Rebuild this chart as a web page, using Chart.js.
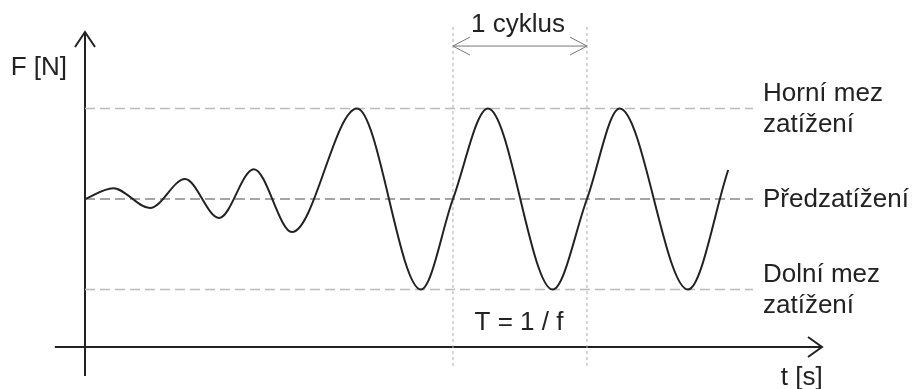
<!DOCTYPE html>
<html>
<head>
<meta charset="utf-8">
<script src="https://cdn.jsdelivr.net/npm/chart.js@4.4.0/dist/chart.umd.min.js"></script>
<style>
  html, body { margin: 0; padding: 0; background: #fff; }
  #wrap { width: 914px; height: 389px; }
</style>
</head>
<body>
<div id="wrap"><canvas id="chart" width="914" height="389"></canvas></div>
<script>
// time in periods (T = 1), force relative to preload (1 = upper limit, -1 = lower limit)
const waveTime  = [0, 0.21, 0.485, 0.746, 1.0, 1.26, 1.545, 2.03, 2.507, 2.746, 3.007, 3.49, 3.746, 3.99, 4.5, 4.8];
const waveForce = [0, 0.12, -0.10, 0.22, -0.21, 0.33, -0.365, 1, -1, 0, 1, -1, 0, 1, -1, 0.32];

const limitLabels = [['Horní mez', 'zatížení'], ['Předzatížení'], ['Dolní mez', 'zatížení']];
const limitValues = [1, 0, -1];
const limitEnd = 4.985;

const cycleBounds = [2.746, 3.746];
const cycleLabel = '1 cyklus';
const periodLabel = 'T = 1 / f';
const yAxisTitle = 'F [N]';
const xAxisTitle = 't [s]';

const FONT = '26px "Liberation Sans", Arial, sans-serif';
const INK = '#222';

function arrowHead(ctx, x, y, dx, dy, len, spread) {
    // open chevron pointing in direction (dx, dy)
    const px = -dy, py = dx;
    ctx.beginPath();
    ctx.moveTo(x - dx * len + px * spread, y - dy * len + py * spread);
    ctx.lineTo(x, y);
    ctx.lineTo(x - dx * len - px * spread, y - dy * len - py * spread);
    ctx.stroke();
}

const diagramPlugin = {
    id: 'diagram',
    beforeDatasetsDraw(chart) {
        const ctx = chart.ctx;
        const xs = chart.scales.x, ys = chart.scales.y;
        const x0 = xs.getPixelForValue(0);
        const yBase = ys.getPixelForValue(-1.635);
        ctx.save();
        ctx.strokeStyle = INK;
        ctx.lineWidth = 2;
        // y axis
        ctx.beginPath();
        ctx.moveTo(x0, ys.getPixelForValue(-1.955));
        ctx.lineTo(x0, ys.getPixelForValue(1.845));
        ctx.stroke();
        arrowHead(ctx, x0, ys.getPixelForValue(1.845), 0, -1, 15, 10);
        // x axis
        const xEnd = xs.getPixelForValue(5.5);
        ctx.beginPath();
        ctx.moveTo(xs.getPixelForValue(-0.225), yBase);
        ctx.lineTo(xEnd, yBase);
        ctx.stroke();
        arrowHead(ctx, xEnd, yBase, 1, 0, 14, 10);
        ctx.restore();
    },
    afterDatasetsDraw(chart) {
        const ctx = chart.ctx;
        const xs = chart.scales.x, ys = chart.scales.y;
        ctx.save();
        ctx.font = FONT;
        ctx.fillStyle = INK;
        ctx.textBaseline = 'middle';

        // limit labels
        ctx.textAlign = 'left';
        const lx = xs.getPixelForValue(limitEnd) + 10;
        limitLabels.forEach((lines, i) => {
            const cy = ys.getPixelForValue(limitValues[i]);
            const lh = 31;
            lines.forEach((t, j) => {
                ctx.fillText(t, lx, cy + (j - (lines.length - 1) / 2) * lh + 1);
            });
        });

        // cycle arrow
        const ax1 = xs.getPixelForValue(cycleBounds[0]);
        const ax2 = xs.getPixelForValue(cycleBounds[1]);
        const ay = ys.getPixelForValue(1.69);
        ctx.strokeStyle = '#777';
        ctx.lineWidth = 1;
        ctx.beginPath();
        ctx.moveTo(ax1, ay);
        ctx.lineTo(ax2, ay);
        ctx.stroke();
        arrowHead(ctx, ax1, ay, -1, 0, 17, 9);
        arrowHead(ctx, ax2, ay, 1, 0, 17, 9);

        ctx.textAlign = 'center';
        ctx.fillText(cycleLabel, (ax1 + ax2) / 2 - 2, ys.getPixelForValue(1.92));
        ctx.fillText(periodLabel, (ax1 + ax2) / 2 - 1, ys.getPixelForValue(-1.365));

        // axis titles
        ctx.textAlign = 'right';
        ctx.fillText(yAxisTitle, xs.getPixelForValue(0) - 18, ys.getPixelForValue(1.45));
        ctx.fillText(xAxisTitle, xs.getPixelForValue(5.505), ys.getPixelForValue(-1.98));
        ctx.restore();
    }
};

const wavePoints = waveTime.map((t, i) => ({ x: t, y: waveForce[i] }));

const limitSets = limitValues.map((v, i) => ({
    data: [{ x: 0, y: v }, { x: limitEnd, y: v }],
    borderColor: v === 0 ? '#888' : '#bbb',
    borderWidth: 1.5,
    borderDash: [10, 5],
    pointRadius: 0,
    showLine: true
}));

const cycleSets = cycleBounds.map(t => ({
    data: [{ x: t, y: 1.9 }, { x: t, y: -1.856 }],
    borderColor: '#aaa',
    borderWidth: 1,
    borderDash: [3, 3],
    pointRadius: 0,
    showLine: true
}));

new Chart(document.getElementById('chart'), {
    type: 'scatter',
    data: {
        datasets: [
            {
                data: wavePoints,
                borderColor: INK,
                borderWidth: 2,
                pointRadius: 0,
                showLine: true,
                cubicInterpolationMode: 'monotone'
            },
            ...limitSets,
            ...cycleSets
        ]
    },
    options: {
        responsive: false,
        animation: false,
        layout: { padding: 0 },
        plugins: { legend: { display: false }, tooltip: { enabled: false } },
        scales: {
            x: { type: 'linear', display: false, min: -0.6343, max: 6.1866 },
            y: { type: 'linear', display: false, min: -2.0994, max: 2.1989 }
        }
    },
    plugins: [diagramPlugin]
});
</script>
</body>
</html>
